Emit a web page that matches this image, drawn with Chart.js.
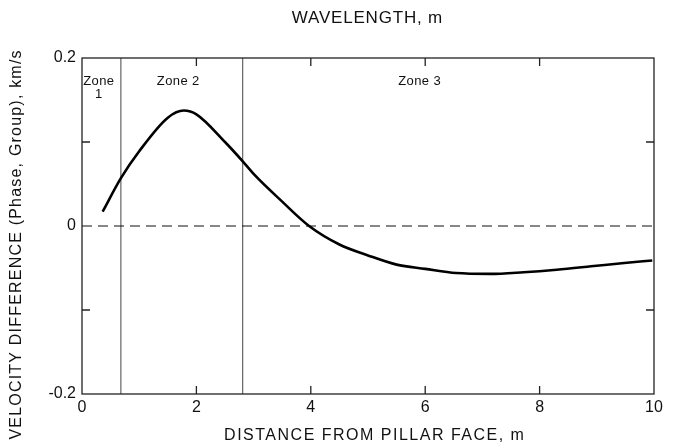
<!DOCTYPE html>
<html>
<head>
<meta charset="utf-8">
<script src="https://cdn.jsdelivr.net/npm/chart.js@4"></script>
<style>
  html, body { margin: 0; padding: 0; background: #fff; }
  #wrap { width: 676px; height: 445px; position: relative; }
</style>
</head>
<body>
<div id="wrap"><canvas id="c" width="676" height="445"></canvas></div>
<script>
// ---- data ----
const distance = [0.36, 0.68, 1.0, 1.5, 1.78, 2.0, 2.5, 2.81, 3.0, 3.5, 3.97, 4.5, 5.0, 5.5, 6.0, 6.54, 7.13, 7.72, 8.3, 8.9, 9.48, 9.97];
const velocityDiff = [0.017, 0.057, 0.089, 0.129, 0.1375, 0.133, 0.100, 0.077, 0.062, 0.029, 0.0, -0.022, -0.035, -0.046, -0.051, -0.056, -0.057, -0.055, -0.052, -0.048, -0.044, -0.041];
const zoneBounds = [0.68, 2.81];
const zoneNames = ["Zone\n1", "Zone 2", "Zone 3"];
const zoneLabelX = [0.29, 1.68, 5.9];
const xTicks = [0, 2, 4, 6, 8, 10];
const xMinorTicks = [2, 4, 6, 8];
const yTicks = [-0.2, 0, 0.2];
const yMinorTicks = [-0.1, 0.1];
const xRange = [0, 10];
const yRange = [-0.2, 0.2];
const titleText = 'WAVELENGTH, m';
const xTitleText = 'DISTANCE FROM PILLAR FACE, m';
const yTitleText = 'VELOCITY DIFFERENCE (Phase, Group), km/s';

const FONT = "'Liberation Sans', Arial, Helvetica, sans-serif";

const curve = distance.map((d, i) => ({ x: d, y: velocityDiff[i] }));
const zeroLine = [{ x: xRange[0], y: 0 }, { x: xRange[1], y: 0 }];
const zoneDatasets = zoneBounds.map(b => ({
  data: [{ x: b, y: yRange[0] }, { x: b, y: yRange[1] }],
  borderColor: '#444', borderWidth: 1, pointRadius: 0, showLine: true, tension: 0
}));

function spacedText(ctx, text, x, y, spacing) {
  ctx.letterSpacing = spacing + 'px';
  ctx.fillText(text, x + spacing / 2, y);
  ctx.letterSpacing = '0px';
}

const framePlugin = {
  id: 'frame',
  afterDatasetsDraw(chart) {
    const { ctx, chartArea: a, scales } = chart;
    const xs = scales.x, ys = scales.y;
    ctx.save();
    ctx.strokeStyle = '#222';
    ctx.lineWidth = 1.3;
    ctx.strokeRect(a.left, a.top, a.right - a.left, a.bottom - a.top);
    const L = 8;
    ctx.beginPath();
    xMinorTicks.forEach(v => {
      const px = xs.getPixelForValue(v);
      ctx.moveTo(px, a.bottom); ctx.lineTo(px, a.bottom - L);
      ctx.moveTo(px, a.top); ctx.lineTo(px, a.top + L);
    });
    yMinorTicks.forEach(v => {
      const py = ys.getPixelForValue(v);
      ctx.moveTo(a.left, py); ctx.lineTo(a.left + L, py);
      ctx.moveTo(a.right, py); ctx.lineTo(a.right - L, py);
    });
    ctx.stroke();
    ctx.fillStyle = '#111';
    ctx.textAlign = 'center';
    ctx.textBaseline = 'middle';
    // zone labels
    ctx.font = '13px ' + FONT;
    zoneNames.forEach((name, i) => {
      const px = xs.getPixelForValue(zoneLabelX[i]);
      name.split('\n').forEach((line, j) => {
        spacedText(ctx, line, px, a.top + 23 + j * 13, 0.4);
      });
    });
    // titles
    const cx = (a.left + a.right) / 2;
    ctx.font = '17px ' + FONT;
    spacedText(ctx, titleText, cx - 1, 18, 0.8);
    ctx.font = '16px ' + FONT;
    spacedText(ctx, xTitleText, cx + 6, 436, 1.5);
    ctx.save();
    ctx.translate(17, (a.top + a.bottom) / 2 + 19);
    ctx.rotate(-Math.PI / 2);
    spacedText(ctx, yTitleText, 0, 0, 1.2);
    ctx.restore();
    ctx.restore();
  }
};

new Chart(document.getElementById('c'), {
  type: 'scatter',
  data: {
    datasets: [
      { data: curve, borderColor: '#000', borderWidth: 2.6, pointRadius: 0, showLine: true,
        cubicInterpolationMode: 'monotone' },
      { data: zeroLine, borderColor: '#111', borderWidth: 1.2, borderDash: [10, 6], pointRadius: 0, showLine: true },
      ...zoneDatasets
    ]
  },
  options: {
    responsive: false,
    animation: false,
    devicePixelRatio: 1,
    layout: { padding: { left: 0, right: 22, top: 58, bottom: 0 } },
    plugins: {
      legend: { display: false },
      tooltip: { enabled: false },
      title: { display: false }
    },
    scales: {
      x: {
        type: 'linear', min: xRange[0], max: xRange[1],
        afterBuildTicks: s => { s.ticks = xTicks.map(v => ({ value: v })); },
        afterFit: s => { s.height = 51; },
        grid: { display: false, drawTicks: false },
        border: { display: false },
        ticks: { color: '#111', font: { family: FONT, size: 16 }, padding: 4, maxRotation: 0 }
      },
      y: {
        type: 'linear', min: yRange[0], max: yRange[1],
        afterBuildTicks: s => { s.ticks = yTicks.map(v => ({ value: v })); },
        afterFit: s => { s.width = 82; },
        grid: { display: false, drawTicks: false },
        border: { display: false },
        ticks: { color: '#111', font: { family: FONT, size: 16 }, padding: 6,
                 callback: v => (Math.abs(v) < 1e-9 ? '0' : String(Math.round(v * 10) / 10)) }
      }
    }
  },
  plugins: [framePlugin]
});
</script>
</body>
</html>
